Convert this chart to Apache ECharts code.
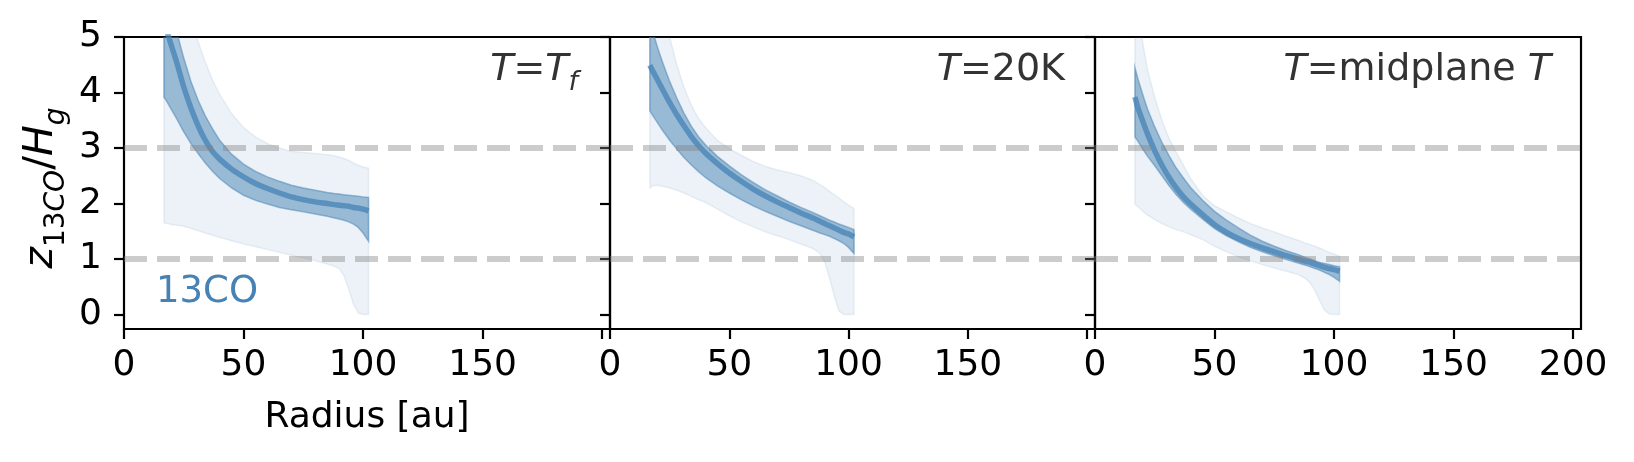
<!DOCTYPE html>
<html>
<head>
<meta charset="utf-8">
<title>z13CO / Hg vs radius</title>
<script src="https://cdn.jsdelivr.net/npm/echarts@6/dist/echarts.min.js"></script>
<style>
html, body { margin: 0; padding: 0; background: #fff; }
#chart { width: 1634px; height: 462px; }
</style>
</head>
<body>
<div id="chart"></div>
<script>
// radius grid (au), shared by the three panels
var radius = [16.7, 18, 20, 22, 25, 28, 31, 34, 37, 40, 45, 50, 55, 60, 65, 70, 75, 80, 85, 88, 90, 92, 94, 96, 98, 100, 102.3];

// panel 1: T = T_f
var tfCenter  = [5.25, 5.1, 4.82, 4.55, 4.10, 3.72, 3.40, 3.14, 2.94, 2.80, 2.62, 2.48, 2.36, 2.27, 2.19, 2.12, 2.07, 2.03, 2.00, 1.98, 1.97, 1.96, 1.95, 1.93, 1.92, 1.90, 1.87];
var tfInnerHi = [6.2, 5.9, 5.45, 5.1, 4.62, 4.2, 3.86, 3.58, 3.35, 3.14, 2.89, 2.71, 2.58, 2.48, 2.40, 2.33, 2.28, 2.24, 2.20, 2.18, 2.17, 2.16, 2.15, 2.14, 2.13, 2.12, 2.11];
var tfInnerLo = [3.92, 3.83, 3.68, 3.53, 3.29, 3.08, 2.90, 2.73, 2.58, 2.45, 2.28, 2.15, 2.06, 1.99, 1.93, 1.89, 1.85, 1.81, 1.77, 1.74, 1.72, 1.70, 1.67, 1.63, 1.57, 1.47, 1.32];
var tfOuterHi = [8.5, 8.0, 7.3, 6.7, 5.9, 5.35, 4.92, 4.55, 4.23, 3.97, 3.62, 3.37, 3.20, 3.08, 3.00, 2.94, 2.92, 2.90, 2.88, 2.86, 2.84, 2.81, 2.78, 2.73, 2.69, 2.66, 2.64];
var tfOuterLo = [1.65, 1.64, 1.62, 1.61, 1.59, 1.55, 1.51, 1.47, 1.43, 1.39, 1.33, 1.27, 1.22, 1.17, 1.12, 1.07, 1.02, 0.97, 0.91, 0.87, 0.83, 0.70, 0.46, 0.18, 0.03, 0.0, 0.0];

// panel 2: T = 20K
var t20Center  = [4.49, 4.38, 4.22, 4.06, 3.82, 3.60, 3.40, 3.21, 3.05, 2.91, 2.72, 2.55, 2.40, 2.26, 2.14, 2.03, 1.93, 1.83, 1.74, 1.68, 1.64, 1.60, 1.56, 1.52, 1.48, 1.45, 1.40];
var t20InnerHi = [5.3, 5.1, 4.8, 4.55, 4.2, 3.9, 3.63, 3.40, 3.21, 3.06, 2.85, 2.68, 2.52, 2.38, 2.25, 2.14, 2.03, 1.93, 1.84, 1.78, 1.74, 1.70, 1.67, 1.63, 1.60, 1.57, 1.53];
var t20InnerLo = [3.67, 3.58, 3.45, 3.32, 3.14, 2.98, 2.83, 2.70, 2.58, 2.47, 2.32, 2.19, 2.07, 1.96, 1.86, 1.77, 1.68, 1.60, 1.52, 1.47, 1.44, 1.41, 1.37, 1.33, 1.28, 1.21, 1.10];
var t20OuterHi = [7.5, 7.0, 6.3, 5.7, 5.0, 4.5, 4.1, 3.78, 3.54, 3.37, 3.14, 2.99, 2.87, 2.76, 2.67, 2.61, 2.56, 2.50, 2.42, 2.34, 2.29, 2.22, 2.16, 2.10, 2.03, 1.97, 1.91];
var t20OuterLo = [2.28, 2.32, 2.33, 2.31, 2.28, 2.24, 2.19, 2.13, 2.07, 2.02, 1.90, 1.78, 1.67, 1.58, 1.49, 1.42, 1.35, 1.27, 1.19, 1.10, 0.95, 0.66, 0.33, 0.06, 0.0, 0.0, 0.0];

// panel 3: T = midplane T
var tmCenter  = [3.92, 3.72, 3.48, 3.25, 2.95, 2.69, 2.47, 2.28, 2.12, 1.99, 1.80, 1.62, 1.48, 1.37, 1.28, 1.20, 1.13, 1.06, 1.00, 0.96, 0.94, 0.91, 0.88, 0.85, 0.83, 0.81, 0.78];
var tmInnerHi = [4.45, 4.24, 3.96, 3.70, 3.38, 3.10, 2.86, 2.64, 2.46, 2.29, 2.06, 1.86, 1.70, 1.56, 1.43, 1.32, 1.23, 1.15, 1.08, 1.03, 1.00, 0.97, 0.94, 0.92, 0.90, 0.88, 0.86];
var tmInnerLo = [3.20, 3.12, 2.98, 2.85, 2.68, 2.50, 2.32, 2.16, 2.02, 1.90, 1.72, 1.55, 1.42, 1.31, 1.21, 1.13, 1.06, 0.99, 0.93, 0.89, 0.86, 0.83, 0.80, 0.76, 0.72, 0.67, 0.60];
var tmOuterHi = [6.3, 5.6, 4.9, 4.4, 3.92, 3.50, 3.17, 2.92, 2.69, 2.45, 2.15, 1.96, 1.85, 1.74, 1.64, 1.56, 1.49, 1.41, 1.34, 1.29, 1.26, 1.23, 1.20, 1.16, 1.12, 1.09, 1.05];
var tmOuterLo = [1.99, 1.94, 1.86, 1.79, 1.71, 1.64, 1.58, 1.53, 1.49, 1.44, 1.35, 1.23, 1.13, 1.04, 0.97, 0.90, 0.84, 0.78, 0.72, 0.65, 0.57, 0.43, 0.25, 0.08, 0.01, 0.0, 0.0];

var xTicks = [0, 50, 100, 150, 200];
var yTicks = [0, 1, 2, 3, 4, 5];
var refLevels = [1, 3];
var xMax = 203.3;
var yMin = -0.26, yMax = 5;

var panels = [
  { center: tfCenter, innerHi: tfInnerHi, innerLo: tfInnerLo, outerHi: tfOuterHi, outerLo: tfOuterLo },
  { center: t20Center, innerHi: t20InnerHi, innerLo: t20InnerLo, outerHi: t20OuterHi, outerLo: t20OuterLo },
  { center: tmCenter, innerHi: tmInnerHi, innerLo: tmInnerLo, outerHi: tmOuterHi, outerLo: tmOuterLo }
];

var gridLeft = [124, 610, 1095];
var gridWidth = [486, 485, 486];
var font = 'DejaVu Sans';
var blue = 'rgb(70,130,180)';

function pairs(ys) {
  return radius.map(function (r, i) { return [r, ys[i]]; });
}

// filled band between two curves, drawn through the axis coords
function band(idx, lo, hi, fill) {
  var upper = pairs(hi);
  var lower = pairs(lo).reverse();
  return {
    type: 'custom',
    xAxisIndex: idx,
    yAxisIndex: idx,
    clip: true,
    silent: true,
    data: [[radius[0], lo[0]]],
    renderItem: function (params, api) {
      var pts = upper.concat(lower).map(function (p) { return api.coord(p); });
      return {
        type: 'polygon',
        shape: { points: pts },
        style: { fill: fill, stroke: fill, lineWidth: 1.5 }
      };
    }
  };
}

var series = [];
panels.forEach(function (p, i) {
  series.push(band(i, p.outerLo, p.outerHi, 'rgba(70,130,180,0.1)'));
  series.push(band(i, p.innerLo, p.innerHi, 'rgba(70,130,180,0.5)'));
  series.push({
    type: 'line',
    xAxisIndex: i,
    yAxisIndex: i,
    data: pairs(p.center),
    showSymbol: false,
    smooth: 0.2,
    silent: true,
    lineStyle: { color: 'rgba(70,130,180,0.75)', width: 5.5 },
    markLine: {
      silent: true,
      symbol: ['none', 'none'],
      label: { show: false },
      lineStyle: { type: [23, 10], width: 6, color: 'rgba(128,128,128,0.4)' },
      data: refLevels.map(function (v) { return { yAxis: v }; })
    }
  });
});

var tickStyle = { color: '#000', width: 2.2 };

// rich text styles for the math-like labels
function mathRich(size, subSize, lift, color) {
  return {
    i: { fontSize: size, fontFamily: font, fontStyle: 'italic', fill: color, verticalAlign: 'bottom', padding: [0, 0, lift, 0] },
    n: { fontSize: size, fontFamily: font, fill: color, verticalAlign: 'bottom', padding: [0, 0, lift, 0] },
    s: { fontSize: subSize, fontFamily: font, fill: color, verticalAlign: 'bottom' },
    si: { fontSize: subSize, fontFamily: font, fontStyle: 'italic', fill: color, verticalAlign: 'bottom' }
  };
}

var option = {
  animation: false,
  backgroundColor: '#fff',
  grid: [0, 1, 2].map(function (i) {
    return {
      left: gridLeft[i], top: 37, width: gridWidth[i], height: 292,
      show: true, borderColor: '#000', borderWidth: 2.2, backgroundColor: 'transparent',
      outerBoundsMode: 'none'
    };
  }),
  xAxis: [0, 1, 2].map(function (i) {
    return {
      type: 'value', gridIndex: i, min: 0, max: xMax,
      axisLine: { show: false, onZero: false },
      splitLine: { show: false },
      axisTick: { show: true, length: 10, lineStyle: tickStyle, customValues: xTicks },
      axisLabel: {
        customValues: i === 2 ? xTicks : xTicks.slice(0, 4),
        fontSize: 36, fontFamily: font, color: '#000', margin: 19
      },
      name: i === 0 ? 'Radius [au]' : '',
      nameLocation: 'middle', nameGap: 71,
      nameTextStyle: { fontSize: 36, fontFamily: font, color: '#000' }
    };
  }),
  yAxis: [0, 1, 2].map(function (i) {
    return {
      type: 'value', gridIndex: i, min: yMin, max: yMax,
      axisLine: { show: false, onZero: false },
      splitLine: { show: false },
      axisTick: { show: true, length: 10, lineStyle: tickStyle, customValues: yTicks },
      axisLabel: {
        show: i === 0, customValues: yTicks,
        fontSize: 36, fontFamily: font, color: '#000', margin: 22,
        padding: [8, 0, 0, 0]
      }
    };
  }),
  graphic: [
    {
      type: 'text', x: 46, y: 188, rotation: Math.PI / 2,
      style: {
        text: '{i|z}{s|13}{si|CO}{n|/}{i|H}{si|g}',
        align: 'center', verticalAlign: 'middle', fill: '#000',
        rich: mathRich(41, 28, 9, '#000')
      }
    },
    {
      type: 'text', x: 156, y: 292,
      style: { text: '13CO', fontSize: 37, fontFamily: font, fill: blue, align: 'left', verticalAlign: 'middle' }
    }
  ].concat([
    { text: '{i|T}{n|=}{i|T}{si|f}', right: 578 },
    { text: '{i|T}{n|=20K}', right: 1065 },
    { text: '{i|T}{n|=midplane }{i|T}', right: 1551 }
  ].map(function (t) {
    return {
      type: 'text', x: t.right, y: 96,
      style: {
        text: t.text, align: 'right', verticalAlign: 'bottom', fill: '#333',
        rich: mathRich(38, 27, 7, '#333')
      }
    };
  })),
  series: series
};

var chart = echarts.init(document.getElementById('chart'), null, { renderer: 'canvas' });
chart.setOption(option);
</script>
</body>
</html>
